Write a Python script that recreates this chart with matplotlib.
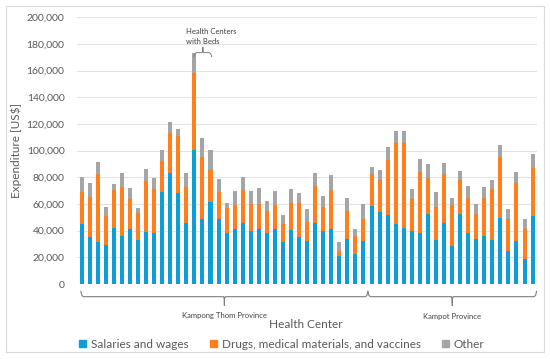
import numpy as np
import matplotlib.pyplot as plt
from matplotlib.patches import Rectangle, Patch

# cumulative tops of each stack (US$)
salaries = [45000, 35500, 31750, 29000, 41750, 36250, 41250, 33250, 39000, 38500,
            69000, 83250, 68250, 45500, 100500, 48500, 61750, 48750, 38250, 41500,
            45500, 39500, 41250, 38250, 41500, 31500, 40250, 35250, 32250, 45500,
            39500, 41000, 21250, 33750, 22750, 32250,
            58750, 53750, 51750, 44750, 42250, 40000, 38250, 52750, 33250, 45500,
            28500, 52750, 38500, 34000, 36250, 33250, 49750, 25000, 32250, 19000, 51250]
top_drugs = [68750, 65500, 82250, 51250, 70500, 72500, 63750, 53000, 77500, 71500,
             92500, 113500, 111250, 72500, 158250, 95000, 85250, 69250, 57250, 59250,
             70250, 60250, 60250, 55000, 59250, 45000, 60500, 60500, 46250, 73750,
             57500, 70750, 25000, 54750, 35750, 48500,
             82750, 78250, 93000, 106000, 105500, 63500, 84000, 79250, 58000, 82750,
             59500, 77750, 64750, 52750, 64250, 71000, 95500, 49000, 76000, 41250, 87250]
top_total = [80500, 75750, 91500, 58000, 74750, 83250, 71750, 57000, 86250, 79250,
             100250, 121250, 116250, 83000, 173500, 109750, 100250, 78750, 60750, 69500,
             80000, 69750, 72250, 62500, 69500, 51750, 71250, 68000, 56500, 83250,
             66250, 81750, 31500, 64250, 41500, 59750,
             87500, 85250, 102750, 114750, 114750, 71500, 93750, 90000, 69000, 90750,
             64500, 84750, 73750, 59750, 72500, 78000, 104000, 56000, 83750, 48500, 97250]
provinces = ["Kampong Thom Province", "Kampot Province"]
n_thom = 36

salaries = np.array(salaries)
drugs = np.array(top_drugs) - salaries
other = np.array(top_total) - np.array(top_drugs)
x = np.arange(len(salaries))

c_blue, c_orange, c_gray = "#0C9ED9", "#FF7F1E", "#A5A5A5"
txt = "#595959"
plt.rcParams['font.family'] = ['Lato', 'DejaVu Sans']

fig = plt.figure(figsize=(5.5, 3.59), dpi=100)
ax = fig.add_axes([77 / 550, 1 - 284 / 359, 460 / 550, 266.7 / 359])

ax.bar(x, salaries, width=0.5, color=c_blue, zorder=2)
ax.bar(x, drugs, width=0.5, bottom=salaries, color=c_orange, zorder=2)
ax.bar(x, other, width=0.5, bottom=salaries + drugs, color=c_gray, zorder=2)

ax.set_xlim(-0.58, 56.55)
ax.set_ylim(0, 200000)
ax.set_yticks(np.arange(0, 200001, 20000))
ax.set_yticklabels(["{:,}".format(v) for v in range(0, 200001, 20000)])
ax.tick_params(axis='y', length=0, labelsize=7.5, labelcolor=txt, pad=9)
ax.set_xticks([])
ax.grid(axis='y', color="#E3E3E3", linewidth=0.8, zorder=0)
for s in ax.spines.values():
    s.set_visible(False)
ax.set_ylabel("Expenditure [US$]", fontsize=8.5, color=txt, labelpad=3)


def brace(x0, x1, y_line, y_end, y_tick, lw=0.8):
    xm = (x0 + x1) / 2
    xs = [x0, x0 + 0.12, x0 + 0.3, xm - 0.3, xm - 0.1, xm, xm, xm, xm + 0.1, xm + 0.3, x1 - 0.3, x1 - 0.12, x1]
    ys = [y_end, y_line + (y_end - y_line) * 0.25, y_line, y_line, y_line, y_line + (y_tick - y_line) * 0.3,
          y_tick, y_line + (y_tick - y_line) * 0.3, y_line, y_line, y_line, y_line + (y_end - y_line) * 0.25, y_end]
    ax.plot(xs, ys, color="#7F7F7F", linewidth=lw, clip_on=False, solid_joinstyle='round')


# province braces under the bars
brace(-0.1, 35.55, -9500, -5500, -16000)
brace(35.55, 56.5, -9500, -5500, -16000)
ax.text(17.7, -21000, provinces[0], ha='center', va='top', fontsize=5.5, color="#404040")
ax.text(46.0, -21500, provinces[1], ha='center', va='top', fontsize=5.5, color="#404040")

# bracket over the centers with beds
brace(13.95, 16.15, 173500, 170500, 177500, lw=0.7)
ax.text(12.95, 179500, "Health Centers\nwith Beds", ha='left', va='bottom', fontsize=5.5,
        color="#404040", linespacing=1.5)

fig.text(306 / 550, 1 - 325 / 359, "Health Center", ha='center', va='center', fontsize=8.5, color=txt)

handles = [Patch(color=c_blue), Patch(color=c_orange), Patch(color=c_gray)]
labels = ["Salaries and wages", "Drugs, medical materials, and vaccines", "Other"]
fig.legend(handles, labels, loc='center', bbox_to_anchor=(282 / 550, 1 - 344 / 359), ncol=3,
           frameon=False, fontsize=8.5, labelcolor=txt, handlelength=0.6, handleheight=0.6,
           handletextpad=0.4, columnspacing=1.8)

fig.add_artist(Rectangle((6 / 550, 1 - 352 / 359), 538 / 550, 346 / 359, transform=fig.transFigure,
                         fill=False, edgecolor="#D9D9D9", linewidth=0.8))

fig.savefig("out.png", dpi=100)
